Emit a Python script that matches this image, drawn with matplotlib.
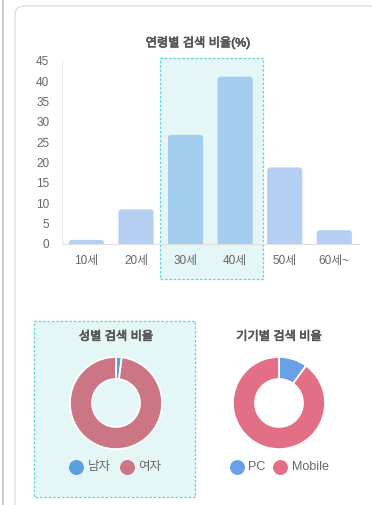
import matplotlib
matplotlib.use("Agg")
import matplotlib.pyplot as plt
import matplotlib.patheffects as pe
from matplotlib.patches import FancyBboxPatch, Rectangle

plt.rcParams['font.family'] = ['Liberation Sans', 'Noto Sans CJK KR', 'DejaVu Sans']

# 연령별 검색 비율
age_labels = ['10세', '20세', '30세', '40세', '50세', '60세~']
age_values = [1.0, 8.5, 26.8, 41.1, 18.8, 3.4]
age_highlight = [False, False, True, True, False, False]

# 성별 / 기기별 검색 비율
gender_labels = ['남자', '여자']
gender_values = [2, 98]
device_labels = ['PC', 'Mobile']
device_values = [10, 90]

W, H = 372, 505
BAR = '#b5cff3'
BAR_HI = '#a2cdee'
HI_FILL = '#e5f6f7'
HI_EDGE = '#5fd3d6'
TEXT = '#666666'
TITLE = '#555555'

fig = plt.figure(figsize=(W / 100, H / 100), dpi=100)
fig.patch.set_facecolor('white')


def fig_box(x0, y0, x1, y1):
    # pixel box (top-left origin) -> figure fraction rect
    return [x0 / W, 1 - y1 / H, (x1 - x0) / W, (y1 - y0) / H]


# 배경 레이어 (카드, 강조 박스)
bg = fig.add_axes([0, 0, 1, 1], zorder=0)
bg.set_xlim(0, W)
bg.set_ylim(H, 0)
bg.axis('off')
bg.plot([2.5, 2.5], [0, H], color='#c4c4c4', lw=1.2)
bg.add_patch(FancyBboxPatch((15, 6), 420, 560, boxstyle='round,pad=0,rounding_size=9',
                            fc='white', ec='#dedede', lw=1))
bg.add_patch(Rectangle((160, 58), 103, 221, fc=HI_FILL, ec=HI_EDGE, lw=0.9, ls=(0, (2, 1.5))))
bg.add_patch(Rectangle((34, 321), 161, 176, fc=HI_FILL, ec=HI_EDGE, lw=0.9, ls=(0, (2, 1.5))))

# 제목은 살짝 두껍게 (medium 느낌)
semi = [pe.withStroke(linewidth=0.5, foreground=TITLE)]
bg.text(198, 43, '연령별 검색 비율(%)', ha='center', va='center', fontsize=8.8, color=TITLE,
        path_effects=semi)
bg.text(116, 337, '성별 검색 비율', ha='center', va='center', fontsize=8.8, color=TITLE,
        path_effects=semi)
bg.text(279, 337, '기기별 검색 비율', ha='center', va='center', fontsize=8.8, color=TITLE,
        path_effects=semi)

# 막대 그래프
ax = fig.add_axes(fig_box(61.7, 60.7, 359, 244), zorder=1)
ax.patch.set_alpha(0)
xs = range(len(age_labels))
bars = ax.bar(xs, age_values, width=0.71, color=[BAR_HI if h else BAR for h in age_highlight])
ax.set_xlim(-0.5, len(age_labels) - 0.5)
ax.set_ylim(0, 45)
aspect = (297.3 / 6) / (183.3 / 45)
for b in bars:
    b.set_visible(False)
    ax.add_patch(FancyBboxPatch((b.get_x(), -2), b.get_width(), b.get_height() + 2,
                                boxstyle='round,pad=0,rounding_size=0.07',
                                mutation_aspect=aspect, fc=b.get_facecolor(), ec='none'))
ax.set_yticks(range(0, 46, 5))
ax.set_xticks(list(xs))
ax.set_xticklabels(age_labels)
ax.tick_params(length=0, labelsize=8.5, labelcolor=TEXT)
ax.tick_params(axis='y', pad=9)
ax.tick_params(axis='x', pad=8)
for s in ['top', 'right']:
    ax.spines[s].set_visible(False)
ax.spines['left'].set_color('#ececec')
ax.spines['bottom'].set_color('#e0e0e0')


def donut(cx, cy, values, colors, labels, legend_pos):
    r = 47
    dax = fig.add_axes(fig_box(cx - r, cy - r, cx + r, cy + r), zorder=1)
    dax.pie(values, colors=colors, startangle=90, counterclock=False,
            wedgeprops=dict(width=0.48, edgecolor='white', linewidth=1.3))
    dax.set_xlim(-1.02, 1.02)
    dax.set_ylim(-1.02, 1.02)
    dax.axis('off')
    for (mx, tx), c, lab in zip(legend_pos, colors, labels):
        bg.scatter([mx], [467], s=95, color=c, zorder=3)
        bg.text(tx, 467, lab, ha='left', va='center', fontsize=9, color=TEXT)


donut(116, 403, gender_values, ['#5aa0e0', '#cc7584'], gender_labels,
      [(76, 88), (127, 138)])
donut(279, 403, device_values, ['#6aa0e6', '#e36f86'], device_labels,
      [(237, 248), (280, 292)])

fig.savefig('out.png', dpi=100)
